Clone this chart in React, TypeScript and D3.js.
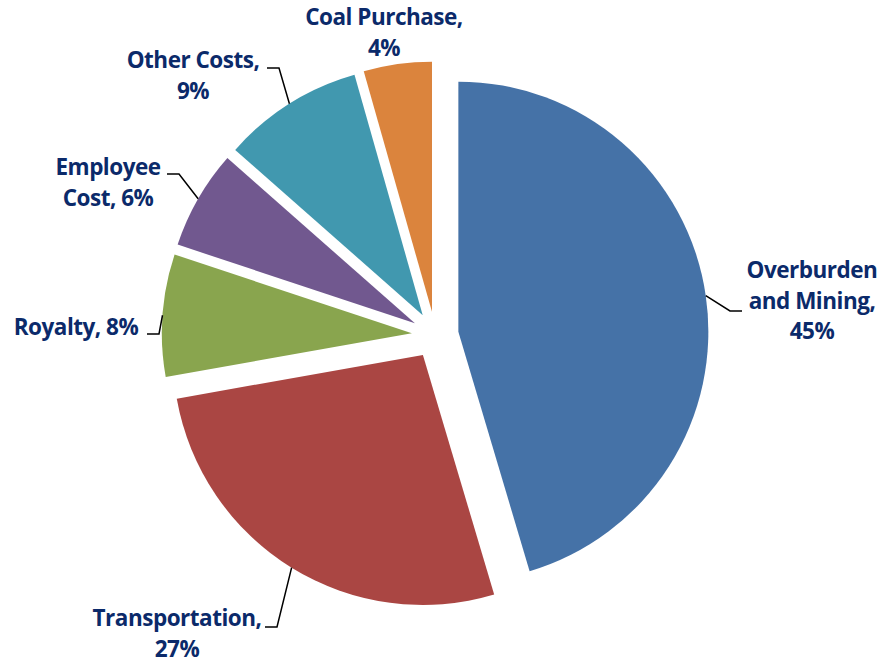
import React, { useEffect, useRef } from "react";
import * as d3 from "d3";

const categories = [
  "Overburden and Mining",
  "Transportation",
  "Royalty",
  "Employee Cost",
  "Other Costs",
  "Coal Purchase",
];
const values = [45.4, 26.8, 7.9, 6.4, 9.1, 4.4];
const colors = ["#4572A7", "#AA4643", "#89A54E", "#71588F", "#4198AF", "#DB843D"];

// label text lines ({p} is replaced by the percent)
const labelLines = [
  ["Overburden", "and Mining,", "{p}%"],
  ["Transportation,", "{p}%"],
  ["Royalty, {p}%"],
  ["Employee", "Cost, {p}%"],
  ["Other Costs,", "{p}%"],
  ["Coal Purchase,", "{p}%"],
];

// label layout: text center x, first baseline y, and where the leader line starts
const labelLayout = [
  { x: 812, y: 278, lx: 742, ly: 311, side: "right" },
  { x: 177, y: 626, lx: 265, ly: 627, side: "left" },
  { x: 76, y: 335, lx: 147, ly: 334, side: "left" },
  { x: 108, y: 175, lx: 167, ly: 174, side: "left" },
  { x: 193, y: 68, lx: 267, ly: 68, side: "left" },
  { x: 384, y: 25, lx: null, ly: null, side: "none" },
];

export default function App() {
  const ref = useRef<SVGSVGElement>(null);

  useEffect(() => {
    const width = 883;
    const height = 662;
    const cx = 435.2;
    const cy = 335;
    const radius = 250;
    const explode = 23.4;
    const lineHeight = 30.5;

    const svg = d3.select(ref.current).attr("width", width).attr("height", height);
    svg.selectAll("*").remove();

    const data = categories.map((c, i) => ({ name: c, value: values[i], i }));
    const total = d3.sum(values);
    const pie = d3.pie<any>().sort(null).value((d) => d.value).startAngle(0).endAngle(2 * Math.PI);
    const arcs = pie(data);
    const arc = d3.arc<any>().innerRadius(0).outerRadius(radius);

    const g = svg.append("g").attr("transform", `translate(${cx},${cy})`);

    const offset = (d: any) => {
      const m = (d.startAngle + d.endAngle) / 2;
      return [Math.sin(m) * explode, -Math.cos(m) * explode];
    };

    g.selectAll("path")
      .data(arcs)
      .join("path")
      .attr("d", arc as any)
      .attr("fill", (d) => colors[d.data.i])
      .attr("transform", (d) => {
        const [ox, oy] = offset(d);
        return `translate(${ox},${oy})`;
      });

    // leader lines
    arcs.forEach((d) => {
      const lay = labelLayout[d.data.i];
      if (lay.side === "none") return;
      const m = (d.startAngle + d.endAngle) / 2;
      const [ox, oy] = offset(d);
      const ax = cx + ox + Math.sin(m) * radius;
      const ay = cy + oy - Math.cos(m) * radius;
      const elbowX = lay.side === "left" ? lay.lx! + 12 : lay.lx! - 12;
      svg.append("polyline")
        .attr("points", `${lay.lx},${lay.ly} ${elbowX},${lay.ly} ${ax},${ay}`)
        .attr("fill", "none")
        .attr("stroke", "#000")
        .attr("stroke-width", 1.5);
    });

    // labels
    arcs.forEach((d) => {
      const lay = labelLayout[d.data.i];
      const pct = Math.round((d.data.value / total) * 100);
      const t = svg.append("text")
        .attr("text-anchor", "middle")
        .attr("font-family", "'Open Sans', Lato, sans-serif")
        .attr("font-weight", "bold")
        .attr("font-size", 22.5)
        .attr("letter-spacing", -0.5)
        .attr("fill", "#0B2A6A");
      labelLines[d.data.i].forEach((line, k) => {
        t.append("tspan")
          .attr("x", lay.x)
          .attr("y", lay.y + k * lineHeight)
          .text(line.replace("{p}", String(pct)));
      });
    });
  }, []);

  return (
    <svg ref={ref} style={{ position: "absolute", left: 0, top: 0, background: "#fff" }} />
  );
}
